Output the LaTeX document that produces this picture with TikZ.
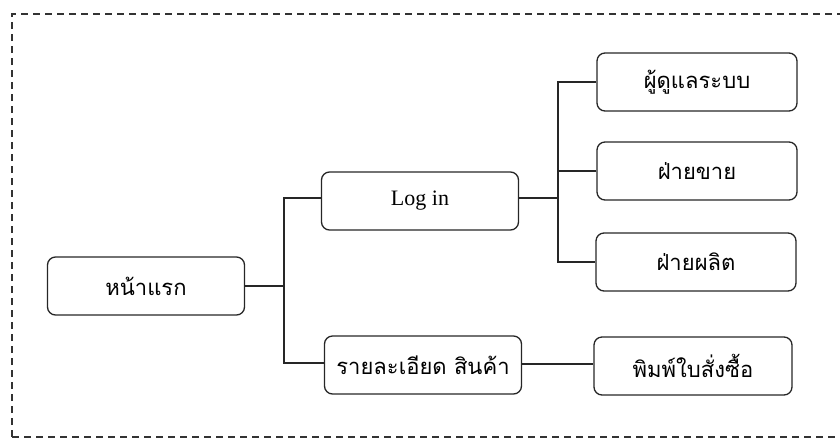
\documentclass[tikz,border=0pt]{standalone}
\usepackage{fontspec}
\setmainfont{Liberation Serif}
\newfontfamily\thaifont[Script=Thai]{Loma}
\begin{document}
\begin{tikzpicture}[x=1pt,y=-1pt,
  box/.style={draw=black!85,line width=1.3pt,rounded corners=8pt,minimum width=197pt,minimum height=58pt,inner sep=0pt,font=\thaifont\fontsize{22}{26}\selectfont},
  link/.style={draw=black!85,line width=1.2pt},
  frame/.style={draw=black!80,line width=1.2pt,dash pattern=on 7pt off 5pt}]
\useasboundingbox (0,0) rectangle (840,440);
\draw[frame] (12,437) -- (12,14) -- (845,14);
\draw[frame] (12,437) -- (845,437);
\node[box] (home) at (146,286) {หน้าแรก};
\node[box,font=\fontsize{22}{26}\selectfont] (login) at (420,201) {Log in};
\node[box] (detail) at (423,365) {รายละเอียด สินค้า};
\node[box,minimum width=200pt] (admin) at (697,82) {ผู้ดูแลระบบ};
\node[box,minimum width=200pt] (sale) at (697,171) {ฝ่ายขาย};
\node[box,minimum width=200pt] (prod) at (696,262) {ฝ่ายผลิต};
\node[box,minimum width=198pt] (print) at (693,366) {พิมพ์ใบสั่งซื้อ};
\coordinate (j1) at (284,286);
\coordinate (j2) at (558,198);
\draw[link] (home.east) -- (j1);
\draw[link] (login.west |- 0,198) -| (j1 |- 0,198) -- (j1 |- 0,363) -- (detail.west |- 0,363);
\draw[link] (login.east |- 0,198) -- (j2);
\draw[link] (admin.west) -| (j2 |- 0,82) -- (j2 |- 0,262) -- (prod.west);
\draw[link] (sale.west) -- (j2 |- sale.west);
\draw[link] (detail.east |- 0,364) -- (print.west |- 0,364);
\end{tikzpicture}
\end{document}
